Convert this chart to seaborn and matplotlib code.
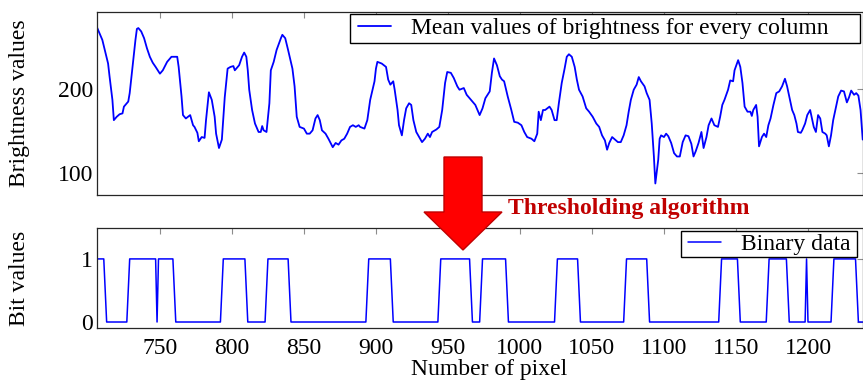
import matplotlib
matplotlib.use("Agg")
import matplotlib.pyplot as plt
from matplotlib.patches import Polygon, Rectangle
import seaborn as sns

# Mean brightness of every image column (pixel index -> brightness)
pixel_cols = [706, 710, 712, 714, 715, 717, 718, 720, 722, 724, 725, 728, 729, 731, 733, 734,
              735, 737, 739, 741, 743, 745, 747, 750, 752, 755, 758, 760, 762, 763, 765, 766,
              768, 771, 773, 774, 776, 777, 779, 781, 782, 784, 786, 788, 789, 791, 793, 795,
              797, 799, 801, 802, 805, 807, 808.5, 810, 811, 812, 814, 816, 818.5, 820, 821,
              822, 824, 826, 827, 829, 831, 834, 835, 837, 839, 842, 843.5, 845, 847, 850,
              852, 854, 856, 858, 859.5, 861, 862.5, 865, 867, 870, 872, 874, 876, 878, 880,
              882, 884, 886, 888, 889, 892, 894, 896, 899, 900, 901, 904, 907, 908.5, 910,
              912, 913, 915, 916, 918, 919.5, 921, 923, 924.5, 926, 928, 930, 932, 934, 936,
              937.5, 939, 942, 944, 946, 948, 949.5, 952, 954, 956.5, 958, 961, 963, 966,
              969, 970.5, 972, 974, 976, 979, 980.5, 982, 984, 986, 987.5, 989, 991.5, 994,
              996, 998.5, 1001, 1003, 1005, 1008, 1010, 1012, 1013, 1014.5, 1016, 1017.5,
              1019, 1020.5, 1022, 1024, 1025.5, 1027, 1029, 1031, 1032.5, 1034, 1036, 1038,
              1039.5, 1041, 1043.5, 1046, 1048, 1050.5, 1053, 1055, 1057, 1059, 1060.5, 1062,
              1064, 1066, 1068, 1070, 1072, 1074, 1075.5, 1077, 1079, 1081, 1082.5, 1084,
              1086.5, 1088, 1090, 1091.5, 1093, 1094, 1096, 1097, 1098, 1100, 1101.5, 1103,
              1105, 1107, 1109, 1111, 1113, 1115, 1117, 1119, 1120.5, 1122, 1124, 1126,
              1127.5, 1129.5, 1131, 1133, 1135, 1137.5, 1139, 1140.5, 1142, 1144.5, 1146,
              1148, 1149, 1151.5, 1153, 1154.5, 1156, 1158, 1160, 1161, 1162, 1164, 1165,
              1166, 1168, 1169.5, 1171, 1172.5, 1174, 1176, 1178, 1180, 1182, 1184, 1185.5,
              1187, 1189, 1190.5, 1192, 1193, 1195, 1196, 1198, 1199.5, 1201.5, 1202.5, 1204,
              1205.5, 1207, 1208.5, 1210, 1212, 1213, 1214.5, 1216, 1217.5, 1219.5, 1221,
              1223, 1225, 1227, 1228.5, 1230, 1232, 1233.5, 1235, 1236.5, 1238]
brightness = [274, 258, 244, 230, 215, 187, 163, 167, 170, 171, 179, 185, 195, 226, 258, 271,
              272, 268, 260, 248, 238, 231, 226, 218, 222, 232, 238, 238, 238, 226, 191, 169,
              165, 169, 157, 155, 148, 138, 143, 142, 163, 196, 187, 167, 147, 130, 140, 190,
              224, 226, 227, 222, 228, 238, 243, 238, 222, 199, 175, 159, 149, 149, 156,
              151, 149, 183, 222, 232, 246, 260, 264, 260, 246, 224, 203, 167, 155, 153,
              147, 147, 151, 165, 169, 163, 151, 147, 141, 131, 136, 134, 139, 141, 147,
              155, 157, 155, 157, 155, 153, 163, 187, 209, 224, 232, 230, 226, 211, 205,
              209, 199, 175, 157, 145, 163, 177, 183, 181, 163, 149, 143, 137, 141, 147,
              143, 149, 152, 155, 175, 207, 220, 219, 213, 203, 199, 201, 193, 187,
              181, 175, 169, 177, 189, 197, 219, 236, 228, 215, 211, 209, 191, 175,
              161, 160, 157, 149, 143, 141, 138, 147, 173, 163, 175, 175,
              177, 179, 175, 163, 163, 183, 207, 224, 238, 241, 238, 226,
              211, 199, 191, 177, 173, 167, 159, 155, 145, 139, 128, 136,
              143, 140, 137, 137, 145, 157, 173, 187, 199, 205, 214, 209,
              203, 195, 187, 159, 120, 88, 116, 141, 145, 143, 147, 144,
              136, 124, 120, 120, 137, 145, 144, 135, 120, 126, 136, 149,
              130, 143, 157, 165, 157, 155, 167, 181, 187, 199, 210,
              209, 222, 234, 226, 207, 179, 173, 173, 168, 175, 181, 167,
              132, 143, 147, 143, 157, 165, 181, 195, 197, 203, 212, 203,
              191, 175, 169, 159, 149, 148, 151, 159, 169, 175, 167, 155,
              149, 169, 165, 149, 147, 145, 132, 145, 163, 179, 191,
              198, 197, 184, 190, 198, 193, 195, 192, 175, 140]

# Thresholded result: corner points of the binary signal
bin_cols = [705, 711, 713, 727, 729, 747, 748, 749, 759, 761, 792, 794, 809, 811, 823, 825,
            839, 841, 893, 895, 910, 912, 943, 945, 965, 967, 972, 974, 990, 992, 1024, 1026,
            1040, 1042, 1072, 1074, 1088, 1090, 1138, 1140, 1151, 1153, 1171, 1173, 1185,
            1187, 1198, 1199, 1200, 1216, 1218, 1233, 1235, 1238]
bin_vals = [1, 1, 0, 0, 1, 1, 0, 1, 1, 0, 0, 1, 1, 0, 0, 1,
            1, 0, 0, 1, 1, 0, 0, 1, 1, 0, 0, 1, 1, 0, 0, 1,
            1, 0, 0, 1, 1, 0, 0, 1, 1, 0, 0, 1, 1,
            0, 0, 1, 0, 0, 1, 1, 0, 0]

x_ticks = [750, 800, 850, 900, 950, 1000, 1050, 1100, 1150, 1200]
bright_ticks = [100, 200]
bit_ticks = [0, 1]

sns.set_theme(style="white")
plt.rcParams["font.family"] = ["Liberation Serif", "DejaVu Serif"]
plt.rcParams["text.color"] = "black"
plt.rcParams["axes.labelcolor"] = "black"
plt.rcParams["xtick.color"] = "black"
plt.rcParams["ytick.color"] = "black"

W, H = 863, 381
FS = 17
fig = plt.figure(figsize=(W / 100, H / 100), dpi=100)


def px_box(left, top, right, bottom):
    return [left / W, 1 - bottom / H, (right - left) / W, (bottom - top) / H]


def fig_pt(x, y):
    return (x / W, 1 - y / H)


ax1 = fig.add_axes(px_box(97, 12, 863, 194.5))
ax2 = fig.add_axes(px_box(97, 228, 863, 328))

sns.lineplot(x=pixel_cols, y=brightness, ax=ax1, color="#0000ff", linewidth=1.3,
             estimator=None, sort=False, label="Mean values of brightness for every column")
sns.lineplot(x=bin_cols, y=bin_vals, ax=ax2, color="#0000ff", linewidth=1.1,
             estimator=None, sort=False, label="Binary data")

for ax in (ax1, ax2):
    ax.set_xlim(706.3, 1238.2)
    ax.set_xticks(x_ticks)
    ax.tick_params(direction="in", length=4, width=0.8, color="#8c8c8c",
                   top=True, right=True, labelsize=FS, pad=3, labelcolor="black")
    for s in ax.spines.values():
        s.set_color("#262626")
        s.set_linewidth(0.9)
        s.set_visible(True)

ax1.set_ylim(75, 291)
ax1.set_yticks(bright_ticks)
ax1.tick_params(labelbottom=False)
ax1.set_xlabel("")
ax1.set_ylabel("Brightness values", fontsize=FS)
ax1.yaxis.set_label_coords(-0.088, 0.5)

ax2.set_ylim(-0.095, 1.49)
ax2.set_yticks(bit_ticks)
ax2.tick_params(axis="x", pad=7)
ax2.set_ylabel("Bit values", fontsize=FS)
ax2.yaxis.set_label_coords(-0.088, 0.5)
ax2.set_xlabel("Number of pixel", fontsize=FS)
ax2.xaxis.set_label_coords(0.512, -0.31)

# Legends: entries placed without a frame, boxed by a plain white rectangle
leg_kw = dict(loc="center left", bbox_transform=fig.transFigure, borderaxespad=0,
              frameon=False, fontsize=FS, handlelength=1.38, handletextpad=0.85,
              borderpad=0)
ax1.legend(bbox_to_anchor=fig_pt(358, 28.5), **leg_kw)
ax2.legend(bbox_to_anchor=fig_pt(688, 244), **leg_kw)
for ax, (l, t, r, b) in [(ax1, (350, 14, 860, 43)), (ax2, (681, 231, 857, 257))]:
    x0, y0 = fig_pt(l, b)
    ax.add_patch(Rectangle((x0, y0), (r - l) / W, (b - t) / H, transform=fig.transFigure,
                           facecolor="white", edgecolor="black", linewidth=1.0,
                           zorder=4, clip_on=False))
    ax.get_legend().set_zorder(6)

# Big red arrow between the two panels
arrow_px = [(444, 157), (482, 157), (482, 212), (502, 212), (463, 250), (424, 212), (444, 212)]
arrow = Polygon([fig_pt(x, y) for x, y in arrow_px], closed=True,
                transform=fig.transFigure, facecolor="#ff0000", edgecolor="#c00000",
                linewidth=1.0, zorder=10)
fig.add_artist(arrow)
fig.text(508 / W, 1 - 209 / H, "Thresholding algorithm", color="#c00000",
         fontweight="bold", fontsize=FS, ha="left", va="center", zorder=11)

fig.savefig("out.png", dpi=100)
